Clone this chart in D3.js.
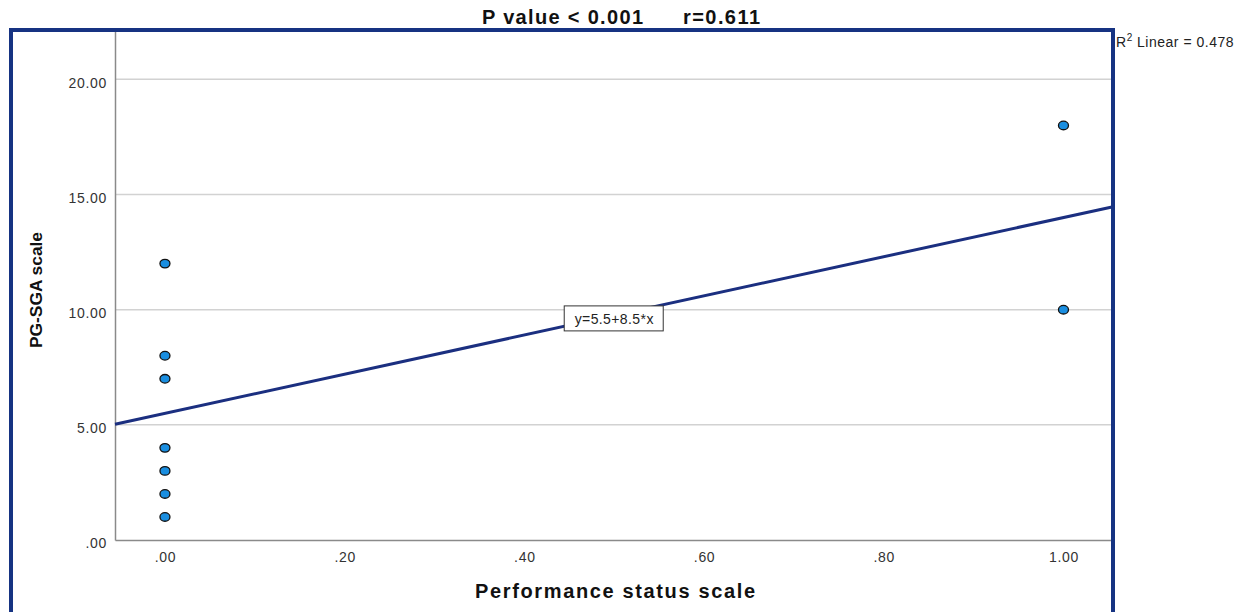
<!DOCTYPE html>
<html>
<head>
<meta charset="utf-8">
<script src="https://cdn.jsdelivr.net/npm/d3@7"></script>
<style>
  body { margin: 0; background: #fff; }
  text { font-family: "Liberation Sans", Arial, sans-serif; }
</style>
</head>
<body>
<svg id="chart" width="1249" height="612"></svg>
<script>
// data
const xValues = [0, 0, 0, 0, 0, 0, 0, 1, 1];
const yValues = [12, 8, 7, 4, 3, 2, 1, 18, 10];
const xTicks = [0, 0.2, 0.4, 0.6, 0.8, 1.0];
const yTicks = [0, 5, 10, 15, 20];
const fitIntercept = 5.5;
const fitSlope = 8.5;
const r2Text = "0.478";

const svg = d3.select('#chart');

const plot = { left: 115, right: 1112, top: 31, bottom: 540 };

const x = d3.scaleLinear().domain([-0.0556, 1.054]).range([plot.left, plot.right]);
const y = d3.scaleLinear().domain([0, 22.1]).range([plot.bottom, plot.top]);

const fmt = v => {
    let s = v.toFixed(2);
    return s.startsWith('0.') ? s.slice(1) : s;
};

// grid lines
svg.append('g')
    .selectAll('line')
    .data(yTicks.filter(d => d > 0))
    .join('line')
    .attr('x1', plot.left).attr('x2', plot.right)
    .attr('y1', d => y(d)).attr('y2', d => y(d))
    .attr('stroke', '#d2d2d2').attr('stroke-width', 1.5);

// axes
const xAxis = svg.append('g')
    .attr('transform', `translate(0,${plot.bottom})`)
    .call(d3.axisBottom(x).tickValues(xTicks).tickFormat(fmt).tickSize(0).tickPadding(12));
const yAxis = svg.append('g')
    .attr('transform', `translate(${plot.left},0)`)
    .call(d3.axisLeft(y).tickValues(yTicks).tickFormat(fmt).tickSize(0).tickPadding(8));

[xAxis, yAxis].forEach(a => {
    a.select('.domain').attr('stroke', '#8a8a8a').attr('stroke-width', 1.5);
    a.selectAll('text')
        .style('font-family', '"Liberation Sans", Arial, sans-serif')
        .style('font-size', '14px')
        .style('letter-spacing', '0.7px')
        .attr('fill', '#333');
});
yAxis.selectAll('text').attr('dy', '0.55em');

// fit line
const x0 = x.domain()[0], x1 = x.domain()[1];
svg.append('line')
    .attr('x1', x(x0)).attr('y1', y(fitIntercept + fitSlope * x0))
    .attr('x2', x(x1)).attr('y2', y(fitIntercept + fitSlope * x1))
    .attr('stroke', '#1b2f80').attr('stroke-width', 3);

// equation label
const eqX = 0.5, eqY = 9.6;
const eqG = svg.append('g').attr('transform', `translate(${x(eqX)},${y(eqY)})`);
eqG.append('rect')
    .attr('x', -50).attr('y', -13).attr('width', 99).attr('height', 25)
    .attr('fill', '#fff').attr('stroke', '#333').attr('stroke-width', 1);
eqG.append('text')
    .attr('text-anchor', 'middle').attr('dy', '0.35em')
    .style('font-size', '14px').style('letter-spacing', '0.4px').attr('fill', '#222')
    .text(`y=${fitIntercept}+${fitSlope}*x`);

// points
svg.append('g')
    .selectAll('ellipse')
    .data(xValues.map((d, i) => [d, yValues[i]]))
    .join('ellipse')
    .attr('cx', d => x(d[0])).attr('cy', d => y(d[1]))
    .attr('rx', 5).attr('ry', 4.3)
    .attr('fill', '#1a8ee0').attr('stroke', '#111').attr('stroke-width', 1.3);

// outer frame
svg.append('rect')
    .attr('x', 11).attr('y', 30).attr('width', 1102).attr('height', 584)
    .attr('fill', 'none').attr('stroke', '#163382').attr('stroke-width', 4);

// title
svg.append('text')
    .attr('x', 482).attr('y', 24)
    .style('font-size', '20px').style('font-weight', 'bold')
    .attr('textLength', 161).attr('lengthAdjust', 'spacing')
    .attr('fill', '#111')
    .text('P value < 0.001');
svg.append('text')
    .attr('x', 683).attr('y', 24)
    .style('font-size', '20px').style('font-weight', 'bold')
    .attr('textLength', 77).attr('lengthAdjust', 'spacing')
    .attr('fill', '#111')
    .text('r=0.611');

// R2 label
const r2 = svg.append('text')
    .attr('x', 1116).attr('y', 47)
    .style('font-size', '14px').style('letter-spacing', '0.5px').attr('fill', '#222');
r2.append('tspan').text('R');
r2.append('tspan').attr('dy', -6).style('font-size', '10px').text('2');
r2.append('tspan').attr('dy', 6).text(' Linear = ' + r2Text);

// axis titles
svg.append('text')
    .attr('x', 475).attr('y', 598)
    .style('font-size', '20px').style('font-weight', 'bold')
    .attr('textLength', 280).attr('lengthAdjust', 'spacing')
    .attr('fill', '#111')
    .text('Performance status scale');

svg.append('text')
    .attr('transform', 'translate(42,290) rotate(-90)')
    .attr('text-anchor', 'middle')
    .style('font-size', '17px').style('font-weight', 'bold')
    .attr('textLength', 116).attr('lengthAdjust', 'spacingAndGlyphs')
    .attr('fill', '#111')
    .text('PG-SGA scale');
</script>
</body>
</html>
